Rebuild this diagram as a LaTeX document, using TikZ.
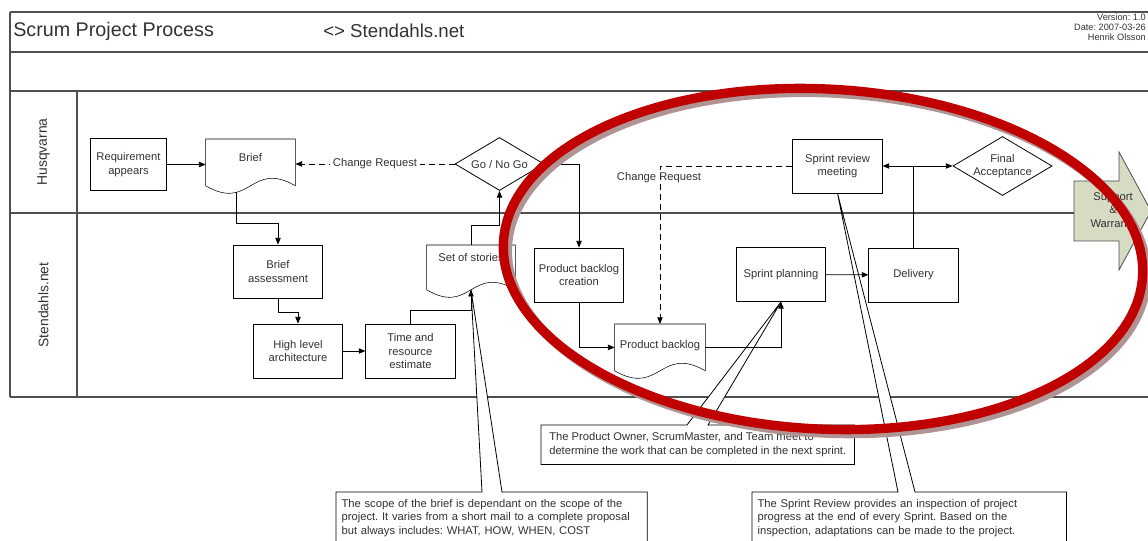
\documentclass[tikz,border=0pt]{standalone}
\usepackage{fontspec}
\setmainfont{Liberation Sans}
\usepackage{tikz}
\usetikzlibrary{arrows.meta, shapes.geometric, calc, positioning}
\pgfdeclarelayer{back}
\pgfsetlayers{back,main}
\frenchspacing

\definecolor{lanegray}{RGB}{80,80,80}
\definecolor{txtgray}{RGB}{50,50,50}
\definecolor{swfill}{RGB}{214,219,196}
\definecolor{ringred}{RGB}{192,0,0}
\definecolor{ringshade}{RGB}{176,148,148}

\newcommand{\boxfont}{\fontsize{8.4}{10.3}\selectfont}
\newcommand{\lanefont}{\fontsize{10.4}{12}\selectfont}
\newcommand{\verfont}{\fontsize{6.9}{7.7}\selectfont}
% outline of a document shape round node #1, wave depth #2
\newcommand{\docoutline}[2]{%
  \draw (#1.south west) -- (#1.north west) -- (#1.north east) -- (#1.south east)
    .. controls ($(#1.south)+(0,-#2)$) and ($(#1.south)+(0,#2)$) .. (#1.south west);}

\begin{document}
\begin{tikzpicture}[x=0.75pt,y=0.75pt,yscale=-1,xscale=1,
  font=\boxfont, text=txtgray,
  procbox/.style={draw=black, line width=0.6pt, align=center, inner sep=1pt, minimum width=67pt, minimum height=40.5pt},
  docnode/.style={align=center, inner xsep=1pt, inner ysep=0pt, line width=0.6pt},
  decision/.style={diamond, draw=black, line width=0.6pt, aspect=1.68, inner sep=0pt, align=center, minimum width=66.75pt, minimum height=39.75pt},
  flow/.style={draw=black, line width=0.6pt, -{Triangle[length=5pt,width=4pt]}},
  crflow/.style={flow, dash pattern=on 4.5pt off 3pt},
  lane/.style={draw=lanegray, line width=1.2pt},
  note/.style={anchor=north west, align=left, inner xsep=4pt, inner ysep=5pt},
  ring/.style={line width=7pt}
]
\useasboundingbox (0,0) rectangle (1148,541);
\clip (0,0) rectangle (1148,541);

% Header
\node[anchor=west, inner sep=0.75pt, font=\fontsize{14.8}{17}\selectfont] (title) at (12,31) {Scrum Project Process};
\node[anchor=west, inner sep=0.75pt, font=\fontsize{14}{17}\selectfont] (client) at (322,31) {<> Stendahls.net};
\node[anchor=north east, align=right, inner sep=0pt, font=\verfont] (version) at (1146,13.5) {Version: 1.0\\Date: 2007-03-26\\Henrik Olsson};

% Lane names
\node[rotate=90, font=\lanefont] (husq) at (43.5,152) {Husqvarna};
\node[rotate=90, font=\lanefont] (sthl) at (43.5,305) {Stendahls.net};

% Husqvarna lane
\node[procbox, minimum width=57pt, minimum height=39pt] (req) at (128.5,164.5) {Requirement\\appears};
\node[docnode, anchor=north, minimum width=66.75pt, text height=16.5pt, text depth=18pt] (brief) at (250.5,139) {Brief};
\docoutline{brief}{26}
\node[decision] (gonogo) at (499.5,164) {Go / No Go};
\node[procbox] (srm) at (837.5,166) {Sprint review\\meeting};
\node[decision] (fa) at (1002.5,166) {Final\\Acceptance};

% Stendahls.net lane
\node[procbox, minimum height=39.75pt] (ba) at (278,271.5) {Brief\\assessment};
\node[procbox] (hla) at (298,351) {High level\\architecture};
\node[procbox] (tre) at (410.5,351) {Time and\\resource\\estimate};
\node[docnode, anchor=north, minimum width=66pt, text height=12pt, text depth=21pt] (sos) at (471,245) {Set of stories};
\docoutline{sos}{26}
\node[procbox] (pbc) at (579,275) {Product backlog\\creation};
\node[docnode, anchor=north, minimum width=67.5pt, text height=18pt, text depth=16.5pt] (pb) at (660,324) {Product backlog};
\docoutline{pb}{26}
\node[procbox] (sp) at (781,274.5) {Sprint planning};
\node[procbox] (del) at (913.5,275) {Delivery};

% Support & Warranty
\draw[fill=swfill, draw=black!70, line width=0.6pt] (1074,181) -- (1119,181) -- (1119,152) -- (1151,211) -- (1119,270) -- (1119,241) -- (1074,241) -- cycle;
\node[align=center] (support) at (1113,211) {Support\\\&\\Warranty};

% Notes
\node[note, text width=225pt] (scopenote) at (336,492) {The scope of the brief is dependant on the scope of the\\project. It varies from a short mail to a complete proposal\\but always includes: WHAT, HOW, WHEN, COST};
\node[note, minimum width=234.75pt, minimum height=29.25pt] (plannote) at (541,425) {The Product Owner, ScrumMaster, and Team meet to\\determine the work that can be completed in the next sprint.};
\node[note, text width=227.5pt] (reviewnote) at (752,492) {The Sprint Review provides an inspection of project\\progress at the end of every Sprint. Based on the\\inspection, adaptations can be made to the project.};

\begin{pgfonlayer}{back}
  % lanes
  \draw[lane] (10,12) -- (1148,12);
  \draw[lane] (10,52) -- (1148,52);
  \draw[lane] (10,91) -- (1148,91);
  \draw[lane] (10,213) -- (1148,213);
  \draw[lane] (10,397) -- (1148,397);
  \draw[lane] (10,12) -- (10,397);
  \draw[lane] (77,91) -- (77,397);
  % note outlines
  \draw[fill=white, line width=0.6pt] (scopenote.north west) -- ($(scopenote.north west)+(146,0)$) -- (sos.south) -- ($(scopenote.north west)+(166,0)$) -- (scopenote.north east) -- ($(scopenote.south east)+(0,40)$) -- ($(scopenote.south west)+(0,40)$) -- cycle;
  \draw[fill=white, line width=0.6pt] (plannote.north west) -- ($(plannote.north west)+(146,0)$) -- (sp.south) -- ($(plannote.north west)+(167,0)$) -- (plannote.north east) -- (plannote.south east) -- (plannote.south west) -- cycle;
  \draw[fill=white, line width=0.6pt] (reviewnote.north west) -- ($(reviewnote.north west)+(146,0)$) -- (srm.south) -- ($(reviewnote.north west)+(163,0)$) -- (reviewnote.north east) -- ($(reviewnote.south east)+(0,40)$) -- ($(reviewnote.south west)+(0,40)$) -- cycle;
\end{pgfonlayer}

% Connectors
\coordinate (briefdrop) at ($(brief.south)+(-14.5,6.6)$);
\draw[flow] (req.east) -- (req.east -| brief.west);
\draw[crflow] (gonogo.west) -- (gonogo.west -| brief.east) node[midway, fill=white, inner xsep=2pt, inner ysep=1pt] (crbrief) {Change Request};
\draw[flow] (briefdrop) |- ($(ba.north)+(0,-21)$) -- (ba.north);
\draw[flow] (ba.south) |- ($(hla.north)+(0,-11)$) -- (hla.north);
\draw[flow] (hla) -- (tre);
\draw[flow] (tre.north) |- ($(sos.south)+(0,21)$) -- (sos.south);
\draw[flow] (sos.north) |- ($(gonogo.south)+(0,35)$) -- (gonogo.south);
\draw[flow] (gonogo.east) -| (pbc.north);
\draw[flow] (pbc.south) |- (pb.west);
\draw[flow] (pb.east) -| (sp.south);
\draw[flow] (sp) -- (del);
\draw[line width=0.6pt] (del.north) -- (del.north |- srm.east);
\draw[flow, {Triangle[length=5pt,width=4pt]}-{Triangle[length=5pt,width=4pt]}] (srm.east) -- (fa.west);
\draw[crflow] (srm.west) -| (pb.north);
\node (crbacklog) at (659,178) {Change Request};

% Ring
\draw[ringshade, ring, rotate around={3:(827,263)}] (827,263) ellipse [x radius=320, y radius=170];
\draw[ringred, ring, rotate around={3:(823,259)}] (823,259) ellipse [x radius=320, y radius=170];

\end{tikzpicture}
\end{document}
